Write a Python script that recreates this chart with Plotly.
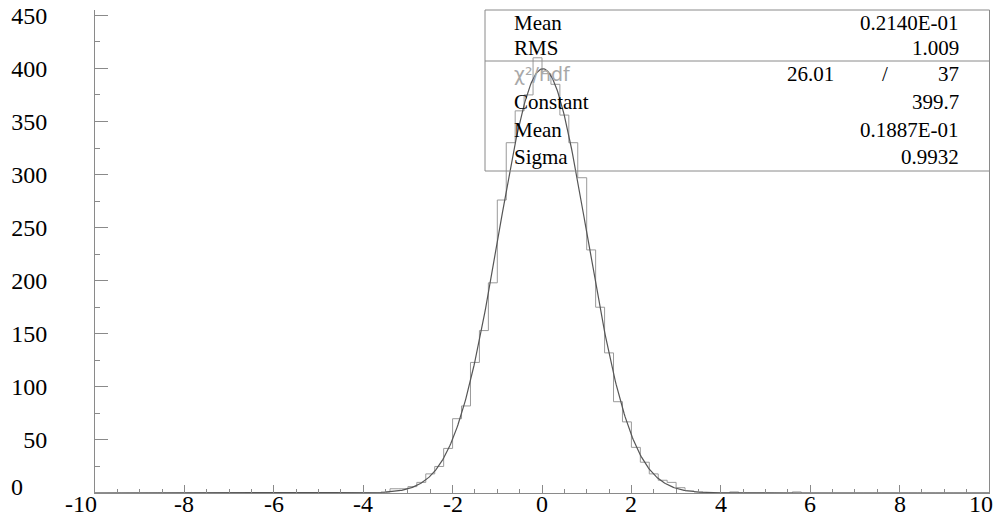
import plotly.graph_objects as go
import numpy as np

# ---- data ----
x_min, x_max, n_bins = -10.0, 10.0, 100
# nonzero bin contents, keyed by bin center
bin_centers_nz = [-3.5, -3.3, -3.1, -2.9, -2.7, -2.5, -2.3, -2.1, -1.9, -1.7,
                  -1.5, -1.3, -1.1, -0.9, -0.7, -0.5, -0.3, -0.1,
                  0.1, 0.3, 0.5, 0.7, 0.9, 1.1, 1.3, 1.5, 1.7, 1.9,
                  2.1, 2.3, 2.5, 2.7, 2.9, 3.1, 3.3, 3.5, 4.3, 5.7]
bin_counts_nz = [1, 4, 4, 6, 10, 18, 25, 42, 70, 82,
                 123, 153, 198, 276, 330, 360, 375, 410,
                 395, 385, 356, 330, 297, 229, 175, 132, 86, 67,
                 43, 29, 18, 12, 10, 5, 2, 1, 1, 1]

fit_constant = 399.7
fit_mean = 0.1887E-01
fit_sigma = 0.9932

stats_labels = ["Mean", "RMS"]
stats_values = ["0.2140E-01", "1.009"]
fit_labels = ["Constant", "Mean", "Sigma"]
fit_values = ["399.7", "0.1887E-01", "0.9932"]
chi2_value, ndf_value = "26.01", "37"

x_tickvals = [-10, -8, -6, -4, -2, 0, 2, 4, 6, 8, 10]
x_ticktext = ["-10", "-8", "-6", "-4", "-2", "0", "2", "4", "6", "8", "10"]
y_tickvals = [50, 100, 150, 200, 250, 300, 350, 400, 450]
y_ticktext = ["50", "100", "150", "200", "250", "300", "350", "400", "450"]

# ---- build histogram outline ----
width = (x_max - x_min) / n_bins
edges = [x_min + i * width for i in range(n_bins + 1)]
counts = [0] * n_bins
for c, v in zip(bin_centers_nz, bin_counts_nz):
    idx = int(round((c - x_min) / width - 0.5))
    counts[idx] = v
hx = edges[:-1] + [edges[-1]]
hy = counts + [counts[-1]]

fx = np.linspace(x_min, x_max, 1001)
fy = fit_constant * np.exp(-0.5 * ((fx - fit_mean) / fit_sigma) ** 2)

fig = go.Figure()
fig.add_trace(go.Scatter(x=hx, y=hy, mode="lines", line=dict(shape="hv", color="#9a9a9a", width=1),
                         hoverinfo="skip", showlegend=False))
fig.add_trace(go.Scatter(x=fx, y=fy, mode="lines", line=dict(color="#555555", width=1.2),
                         hoverinfo="skip", showlegend=False))

serif = "Liberation Serif, Times New Roman, serif"
L, R, T, B = 95, 10, 10, 24
W, H = 999, 517
pw, ph = W - L - R, H - T - B

def px_x(p):
    return (p - L) / pw

def px_y(p):
    return (H - B - p) / ph

tick_font = dict(family=serif, size=24, color="black")

fig.update_layout(
    width=W, height=H,
    margin=dict(l=L, r=R, t=T, b=B, autoexpand=False),
    paper_bgcolor="white", plot_bgcolor="white",
    showlegend=False,
    xaxis=dict(range=[x_min, x_max], showgrid=False, zeroline=False, automargin=False,
               showline=True, linecolor="#8a8a8a", linewidth=1,
               ticks="inside", ticklen=8, tickcolor="#8a8a8a", tickwidth=1,
               tickvals=x_tickvals, showticklabels=False,
               minor=dict(dtick=0.5, ticks="inside", ticklen=4, tickcolor="#8a8a8a", showgrid=False)),
    yaxis=dict(range=[0, 455], showgrid=False, zeroline=False, automargin=False,
               showline=True, linecolor="#8a8a8a", linewidth=1, mirror=True,
               ticks="inside", ticklen=13, tickcolor="#8a8a8a", tickwidth=1,
               tickvals=y_tickvals, ticktext=y_ticktext,
               minor=dict(dtick=25, ticks="inside", ticklen=5, tickcolor="#8a8a8a", showgrid=False),
               tickfont=tick_font,
               ticklabelstandoff=42),
)

# x tick labels (placed on the x scale, just under the axis)
for v, t in zip(x_tickvals, x_ticktext):
    shift = -14 if v == x_min else (-8 if v == x_max else 0)
    fig.add_annotation(xref="x", yref="paper", x=v, y=px_y(504), text=t, showarrow=False,
                       xanchor="center", yanchor="middle", font=tick_font, borderpad=0,
                       xshift=shift)

# y "0" label placed like the original
fig.add_annotation(xref="paper", yref="paper", x=px_x(17), y=px_y(487), text="0",
                   showarrow=False, font=tick_font, xanchor="center", yanchor="middle", borderpad=0)

# stats box
fig.add_shape(type="rect", xref="paper", yref="paper",
              x0=px_x(485), x1=px_x(989.5), y0=px_y(171), y1=px_y(10),
              line=dict(color="#8a8a8a", width=1), fillcolor="rgba(0,0,0,0)")
fig.add_shape(type="line", xref="paper", yref="paper",
              x0=px_x(485), x1=px_x(989.5), y0=px_y(61), y1=px_y(61),
              line=dict(color="#8a8a8a", width=1))

row_y = [23, 48, 74, 102, 130, 157]
lab_x, val_x = px_x(513), px_x(960)
font_s = dict(family=serif, size=21, color="black")

def add_row(label, value, ypx):
    fig.add_annotation(xref="paper", yref="paper", x=lab_x, y=px_y(ypx), text=label,
                       showarrow=False, xanchor="left", yanchor="middle", font=font_s, borderpad=0)
    fig.add_annotation(xref="paper", yref="paper", x=val_x, y=px_y(ypx), text=value,
                       showarrow=False, xanchor="right", yanchor="middle", font=font_s, borderpad=0)

for lab, val, yy in zip(stats_labels, stats_values, row_y[:2]):
    add_row(lab, val, yy)

# chi2 row
fig.add_annotation(xref="paper", yref="paper", x=lab_x, y=px_y(row_y[2]), text="χ²/ndf",
                   showarrow=False, xanchor="left", yanchor="middle", borderpad=0,
                   font=dict(family="DejaVu Sans", size=19, color="#a8a8a8"))
fig.add_annotation(xref="paper", yref="paper", x=px_x(835), y=px_y(row_y[2]), text=chi2_value,
                   showarrow=False, xanchor="right", yanchor="middle", font=font_s, borderpad=0)
fig.add_annotation(xref="paper", yref="paper", x=px_x(885), y=px_y(row_y[2]), text="/",
                   showarrow=False, xanchor="center", yanchor="middle", font=font_s, borderpad=0)
fig.add_annotation(xref="paper", yref="paper", x=val_x, y=px_y(row_y[2]), text=ndf_value,
                   showarrow=False, xanchor="right", yanchor="middle", font=font_s, borderpad=0)

for lab, val, yy in zip(fit_labels, fit_values, row_y[3:]):
    add_row(lab, val, yy)

fig.write_html("out.html")
